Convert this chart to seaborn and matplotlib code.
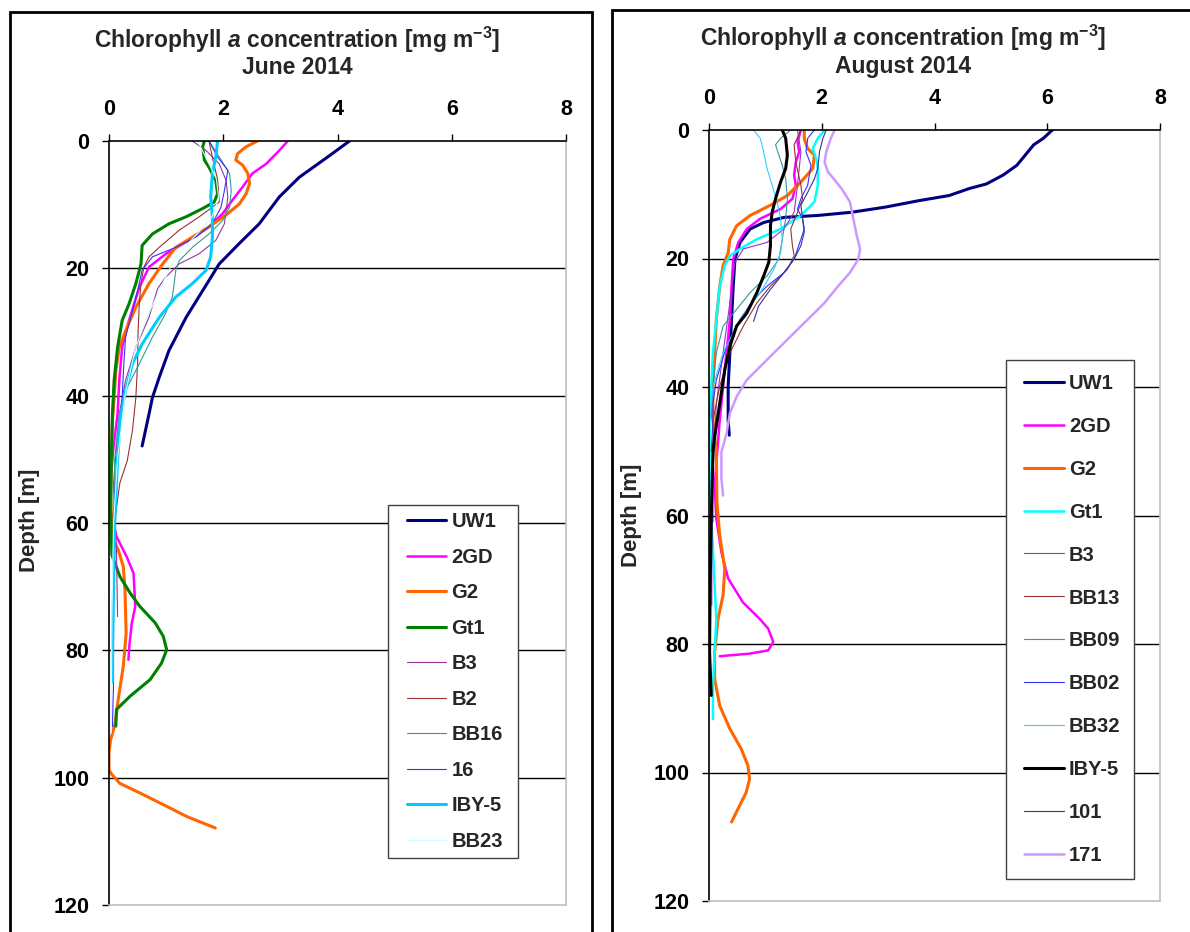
import matplotlib
matplotlib.use("Agg")
import matplotlib.pyplot as plt
import seaborn as sns
import pandas as pd
from matplotlib.patches import Rectangle
from matplotlib.lines import Line2D
from matplotlib.legend_handler import HandlerLine2D

# ---------------- DATA ----------------
X_TICKS = [0, 2, 4, 6, 8]
Y_TICKS = [0, 20, 40, 60, 80, 100, 120]

# June 2014 (depth [m], chlorophyll a [mg m-3])
jun_uw1_d = [0, 2.3, 5.7, 8.8, 13, 16.1, 19.3, 23.5, 27.7, 32.9, 37.1, 40.3, 42.9, 47.9]
jun_uw1_c = [4.21, 3.86, 3.33, 2.98, 2.63, 2.28, 1.93, 1.64, 1.35, 1.05, 0.88, 0.76, 0.70, 0.58]
jun_2gd_d = [0, 1.5, 3.6, 5.1, 7.2, 9.3, 11.4, 13.5, 15.6, 17.7, 19.8, 23, 28.2, 32.4, 37.6, 42.9, 48, 53, 58, 62.1, 65.3, 67.9, 73.1, 75.7, 78.9, 81.5]
jun_2gd_c = [3.13, 2.98, 2.75, 2.51, 2.34, 2.16, 1.99, 1.75, 1.40, 1.0, 0.70, 0.53, 0.35, 0.23, 0.18, 0.15, 0.08, 0.03, 0.03, 0.13, 0.31, 0.43, 0.46, 0.40, 0.36, 0.34]
jun_g2_d = [0, 0.9, 2, 3, 3.8, 5.1, 6.7, 8.3, 9.9, 11.4, 13.5, 15.1, 16.7, 19.3, 22.4, 26.1, 29.8, 32.4, 36.1, 40.3, 43.9, 50, 56, 62, 64.2, 66.8, 70.5, 77.3, 82.5, 87.8, 91.4, 94, 96, 98.8, 99.5, 100.9, 102.4, 104.5, 106.1, 107.9]
jun_g2_c = [2.60, 2.40, 2.25, 2.22, 2.34, 2.43, 2.46, 2.40, 2.28, 2.08, 1.75, 1.46, 1.17, 0.94, 0.70, 0.47, 0.29, 0.18, 0.12, 0.09, 0.06, 0.04, 0.03, 0.05, 0.16, 0.25, 0.28, 0.30, 0.25, 0.16, 0.11, 0.03, 0.0, 0.0, 0.05, 0.19, 0.54, 1.01, 1.36, 1.86]
jun_gt1_d = [0, 0.9, 3, 4.1, 6.2, 8.3, 9.6, 10.6, 11.9, 13, 14.6, 16.4, 19.3, 22.4, 25.6, 28.2, 32.4, 37.6, 42.9, 50, 58, 65, 68.4, 71, 73.1, 75.7, 77.8, 79.9, 82, 84.6, 87.2, 89.3, 91.9]
jun_gt1_c = [1.67, 1.64, 1.67, 1.75, 1.87, 1.90, 1.84, 1.64, 1.35, 1.05, 0.76, 0.58, 0.56, 0.47, 0.35, 0.23, 0.15, 0.09, 0.06, 0.04, 0.03, 0.05, 0.19, 0.37, 0.54, 0.81, 0.95, 1.01, 0.92, 0.72, 0.37, 0.13, 0.12]
jun_b3_d = [0, 1.5, 3.6, 6.2, 8.8, 10.9, 13, 15.6, 17.7, 19.3, 21.4, 23.2, 27.7, 32.4, 37.6, 42.9, 53.7, 64.2, 74.7]
jun_b3_c = [1.46, 1.70, 1.93, 2.05, 2.08, 2.05, 2.02, 1.87, 1.58, 1.23, 0.99, 0.85, 0.70, 0.47, 0.29, 0.18, 0.08, 0.13, 0.15]
jun_b2_d = [0, 3, 6, 9.6, 11.9, 14, 16.7, 18.2, 19.8, 22.4, 25.6, 29.8, 35, 40.3, 45.5, 50.2, 53.7, 59]
jun_b2_c = [1.75, 1.82, 1.90, 1.93, 1.58, 1.23, 0.88, 0.70, 0.61, 0.56, 0.53, 0.51, 0.50, 0.47, 0.41, 0.32, 0.19, 0.11]
jun_bb16_d = [0, 2.5, 5.1, 7.8, 10.4, 12.5, 14.6, 16.7, 18.8, 20.3, 24.5, 27.1, 30.8, 35, 39.2, 42.9, 50, 59, 64]
jun_bb16_c = [1.75, 1.93, 2.11, 2.14, 2.11, 1.99, 1.75, 1.46, 1.23, 1.17, 1.11, 0.99, 0.76, 0.53, 0.29, 0.18, 0.10, 0.08, 0.08]
jun_16_d = [0, 2.5, 4.6, 7.8, 10.4, 13, 15.1, 16.7, 18.2, 20.3, 23.5, 27.7, 30.8, 35, 40.3, 45.5, 55, 70, 85, 92]
jun_16_c = [1.75, 1.90, 2.08, 2.02, 1.96, 1.81, 1.52, 1.17, 0.76, 0.58, 0.50, 0.38, 0.29, 0.26, 0.23, 0.18, 0.10, 0.08, 0.08, 0.06]
jun_iby5_d = [0, 2.5, 5.1, 8.8, 11.9, 15.1, 18.2, 20.3, 22.4, 24.5, 27.7, 31.9, 35, 39.2, 43.4, 50.2, 60, 70, 80, 85]
jun_iby5_c = [1.90, 1.87, 1.81, 1.78, 1.81, 1.81, 1.78, 1.70, 1.46, 1.17, 0.88, 0.58, 0.41, 0.29, 0.20, 0.15, 0.10, 0.08, 0.06, 0.06]
jun_bb23_d = [0, 3, 6, 9, 12, 15, 18.2, 20.3, 23.5, 28, 33, 40, 50, 60, 75, 93]
jun_bb23_c = [1.55, 1.72, 1.88, 1.92, 1.80, 1.50, 1.17, 1.05, 0.88, 0.65, 0.45, 0.28, 0.15, 0.08, 0.05, 0.04]

# August 2014
aug_uw1_d = [0, 1.3, 2.3, 3.9, 5.5, 7.0, 8.4, 9.1, 10.2, 11.0, 12.0, 12.8, 13.3, 13.6, 14.4, 15.4, 17.5, 20.1, 24.3, 29.5, 34.7, 39.9, 45.2, 47.5]
aug_uw1_c = [6.09, 5.93, 5.76, 5.61, 5.46, 5.22, 4.92, 4.62, 4.26, 3.72, 3.13, 2.53, 1.93, 1.33, 0.97, 0.73, 0.55, 0.46, 0.43, 0.40, 0.37, 0.34, 0.34, 0.36]
aug_2gd_d = [0, 1.8, 3.4, 5, 7, 8.6, 10.7, 12.3, 13.8, 15.4, 17.5, 20.1, 24.3, 29.5, 34.7, 39.9, 45.2, 55.3, 60.5, 65.7, 69.8, 73.5, 76.1, 77.6, 79.7, 81.0, 81.5, 81.9]
aug_2gd_c = [1.63, 1.57, 1.60, 1.54, 1.51, 1.54, 1.48, 1.27, 0.91, 0.67, 0.52, 0.43, 0.40, 0.37, 0.31, 0.25, 0.19, 0.10, 0.13, 0.22, 0.34, 0.60, 0.90, 1.05, 1.14, 1.05, 0.72, 0.19]
aug_g2_d = [0, 1.3, 2.9, 3.9, 6, 8.1, 10.2, 11.7, 13.3, 14.9, 17, 19.1, 21.1, 24.3, 29.5, 34.7, 39.9, 45.2, 50.1, 57.9, 63.1, 68.3, 72.4, 76.1, 81.3, 85.4, 89.6, 93.2, 96.3, 98.9, 101, 103.1, 105.2, 107.7]
aug_g2_c = [1.69, 1.69, 1.75, 1.87, 1.84, 1.63, 1.39, 1.09, 0.73, 0.49, 0.37, 0.34, 0.25, 0.19, 0.13, 0.10, 0.07, 0.07, 0.13, 0.14, 0.19, 0.28, 0.25, 0.16, 0.10, 0.10, 0.19, 0.37, 0.57, 0.69, 0.72, 0.66, 0.54, 0.40]
aug_gt1_d = [0, 1.3, 2.9, 4.4, 6, 8.6, 11.2, 13.3, 15.4, 17, 18.5, 19.6, 21.1, 24.3, 29.5, 34.7, 39.9, 45.2, 52.7, 60, 70.9, 76.1, 81.3, 86.4, 91.7]
aug_gt1_c = [2.05, 1.93, 1.84, 1.90, 1.93, 1.93, 1.87, 1.63, 1.27, 0.85, 0.55, 0.37, 0.28, 0.19, 0.13, 0.07, 0.04, 0.01, 0.01, 0.04, 0.10, 0.13, 0.10, 0.07, 0.07]
aug_b3_d = [0, 3.4, 8.6, 12.8, 15.4, 17.5, 18.5, 20.6, 26.9, 34.7, 42.6, 55, 65, 74]
aug_b3_c = [1.57, 1.63, 1.57, 1.51, 1.33, 1.03, 0.61, 0.46, 0.37, 0.25, 0.13, 0.06, 0.05, 0.05]
aug_bb13_d = [0, 2.3, 5, 8.6, 10.7, 12.8, 15.4, 18, 19.6, 21.7, 24.3, 26.9, 30.5, 34.7, 39.9, 45.2, 50]
aug_bb13_c = [1.63, 1.51, 1.54, 1.63, 1.66, 1.57, 1.45, 1.48, 1.51, 1.39, 1.09, 0.85, 0.61, 0.37, 0.19, 0.07, 0.04]
aug_bb09_d = [0, 1.3, 2.3, 3.9, 5.5, 7.6, 10.7, 13.8, 17, 20.1, 22.7, 25.3, 27.9, 30.5, 34.7, 39.9, 45]
aug_bb09_c = [1.45, 1.27, 1.18, 1.24, 1.30, 1.36, 1.39, 1.36, 1.30, 1.24, 1.03, 0.73, 0.49, 0.25, 0.13, 0.07, 0.04]
aug_bb02_d = [0, 1.3, 3.4, 5.5, 8.6, 10.7, 12.3, 13.8, 15.4, 17, 20.1, 22.2, 24.3, 26.4, 29.5, 33.7, 38.9, 42.6, 50, 61]
aug_bb02_c = [1.87, 1.75, 1.72, 1.81, 1.75, 1.63, 1.57, 1.66, 1.69, 1.63, 1.51, 1.33, 1.03, 0.79, 0.55, 0.31, 0.13, 0.07, 0.07, 0.07]
aug_bb32_d = [0, 1.3, 3.4, 6, 8.6, 11.2, 13.8, 17, 19.1, 21.7, 25.3, 29.5, 34.7, 39.9, 45.2, 52]
aug_bb32_c = [0.79, 0.91, 0.97, 1.03, 1.12, 1.21, 1.27, 1.30, 1.27, 1.15, 0.91, 0.55, 0.25, 0.07, 0.01, 0.0]
aug_iby5_d = [0, 1.3, 3.9, 6, 8.1, 10.7, 12.8, 14.9, 18, 20.6, 22.7, 25.3, 28.5, 30.5, 33.7, 37.3, 42.6, 47.8, 50.1, 60.5, 70.9, 81.3, 88]
aug_iby5_c = [1.30, 1.36, 1.39, 1.36, 1.27, 1.18, 1.12, 1.09, 1.09, 1.06, 0.97, 0.85, 0.67, 0.49, 0.37, 0.28, 0.19, 0.10, 0.07, 0.04, 0.02, 0.01, 0.04]
aug_101_d = [0, 1.3, 3.4, 6, 7.6, 9.7, 11.7, 13.8, 15.9, 18, 20.1, 22.2, 24.8, 27.4, 29.8]
aug_101_c = [2.08, 2.02, 1.96, 1.93, 1.87, 1.75, 1.63, 1.66, 1.69, 1.63, 1.51, 1.33, 1.09, 0.88, 0.79]
aug_171_d = [0, 1.3, 3.4, 5, 6.5, 9.1, 11.2, 13.8, 16.4, 18.5, 20.1, 22.2, 24.3, 26.9, 29.5, 32.1, 34.7, 36.8, 38.9, 41.5, 44.1, 47.3, 50.1, 54.3, 56.9]
aug_171_c = [2.23, 2.16, 2.08, 2.05, 2.11, 2.35, 2.50, 2.56, 2.62, 2.68, 2.65, 2.50, 2.29, 2.05, 1.75, 1.45, 1.15, 0.91, 0.67, 0.49, 0.37, 0.31, 0.22, 0.22, 0.25]

june_names = ["UW1", "2GD", "G2", "Gt1", "B3", "B2", "BB16", "16", "IBY-5", "BB23"]
june_depths = [jun_uw1_d, jun_2gd_d, jun_g2_d, jun_gt1_d, jun_b3_d, jun_b2_d, jun_bb16_d, jun_16_d, jun_iby5_d, jun_bb23_d]
june_chl = [jun_uw1_c, jun_2gd_c, jun_g2_c, jun_gt1_c, jun_b3_c, jun_b2_c, jun_bb16_c, jun_16_c, jun_iby5_c, jun_bb23_c]
june_colors = ["#000080", "#FF00FF", "#FF6600", "#008000", "#993399", "#993333", "#339999", "#3333FF", "#00CCFF", "#CCFFFF"]
june_lw = [2.2, 1.8, 2.2, 2.2, 0.8, 0.8, 0.8, 0.8, 2.2, 0.8]

aug_names = ["UW1", "2GD", "G2", "Gt1", "B3", "BB13", "BB09", "BB02", "BB32", "IBY-5", "101", "171"]
aug_depths = [aug_uw1_d, aug_2gd_d, aug_g2_d, aug_gt1_d, aug_b3_d, aug_bb13_d, aug_bb09_d, aug_bb02_d, aug_bb32_d, aug_iby5_d, aug_101_d, aug_171_d]
aug_chl = [aug_uw1_c, aug_2gd_c, aug_g2_c, aug_gt1_c, aug_b3_c, aug_bb13_c, aug_bb09_c, aug_bb02_c, aug_bb32_c, aug_iby5_c, aug_101_c, aug_171_c]
aug_colors = ["#000080", "#FF00FF", "#FF6600", "#00FFFF", "#9933CC", "#993333", "#339999", "#3333FF", "#33CCFF", "#000000", "#333399", "#CC99FF"]
aug_lw = [2.2, 1.8, 2.2, 1.8, 0.8, 0.8, 0.8, 0.8, 0.8, 2.2, 0.8, 1.8]

# ---------------- STYLE ----------------
sns.set_theme(style="white")
plt.rcParams["font.family"] = ["Liberation Sans", "DejaVu Sans"]
plt.rcParams["font.weight"] = "bold"
plt.rcParams["mathtext.fontset"] = "custom"
plt.rcParams["mathtext.rm"] = "Liberation Sans:bold"
plt.rcParams["mathtext.it"] = "Liberation Sans:italic:bold"
plt.rcParams["mathtext.bf"] = "Liberation Sans:bold"

W, H = 1190, 932
fig = plt.figure(figsize=(W / 100, H / 100), dpi=100)
fig.patch.set_facecolor("white")


def px(x0, y0, x1, y1):
    return [x0 / W, 1 - y1 / H, (x1 - x0) / W, (y1 - y0) / H]


# outer frames
fig.patches.append(Rectangle((10 / W, -0.05), 582 / W, 1 - 12 / H + 0.05,
                             transform=fig.transFigure, fill=False, ec="black", lw=2.0))
fig.patches.append(Rectangle((612 / W, -0.05), 0.6, 1 - 10 / H + 0.05,
                             transform=fig.transFigure, fill=False, ec="black", lw=2.0))

ax1 = fig.add_axes(px(109, 141, 566, 905))
ax2 = fig.add_axes(px(709, 130, 1160, 901))


def draw(ax, names, depths, chl, colors, lws, leg_box, leg_opts, xpad):
    for n, d, c, col, lw in zip(names, depths, chl, colors, lws):
        df = pd.DataFrame({"depth": d, "chl": c})
        sns.lineplot(data=df, x="chl", y="depth", sort=False, estimator=None,
                     color=col, lw=lw, ax=ax, label=n)
    ax.set_xlim(X_TICKS[0], X_TICKS[-1])
    ax.set_ylim(Y_TICKS[-1], Y_TICKS[0])
    ax.set_xticks(X_TICKS)
    ax.set_yticks(Y_TICKS)
    ax.xaxis.tick_top()
    ax.set_xlabel("")
    ax.set_ylabel("")
    for yv in Y_TICKS[1:-1]:
        ax.axhline(yv, color="black", lw=1.0, zorder=0.5)
    ax.tick_params(axis="both", direction="out", length=5, width=1, colors="black",
                   labelsize=15.5, top=True, left=True, bottom=False, right=False)
    ax.tick_params(axis="x", pad=10.3)
    ax.tick_params(axis="y", pad=9)
    for lab in ax.get_xticklabels() + ax.get_yticklabels():
        lab.set_fontweight("bold")
    for s in ["top", "left"]:
        ax.spines[s].set_color("black")
        ax.spines[s].set_linewidth(1.2)
    for s in ["right", "bottom"]:
        ax.spines[s].set_color("#BFBFBF")
        ax.spines[s].set_linewidth(1.2)
    leg = ax.legend(loc="upper left", bbox_to_anchor=leg_box, borderaxespad=0,
                    mode="expand", frameon=True, fancybox=False, framealpha=1,
                    edgecolor="#404040", prop={"size": 14.5, "weight": "bold"},
                    handler_map={Line2D: HandlerLine2D(xpad=xpad)}, **leg_opts)
    leg.get_frame().set_linewidth(1.0)


draw(ax1, june_names, june_depths, june_chl, june_colors, june_lw,
     (0.6105, 0.0, 0.2845, 0.5236),
     dict(handlelength=2.54, handletextpad=0.25, labelspacing=0.82, borderpad=0.36), 0.6)
draw(ax2, aug_names, aug_depths, aug_chl, aug_colors, aug_lw,
     (0.6585, 0.0, 0.2838, 0.7017),
     dict(handlelength=2.19, handletextpad=0.25, labelspacing=1.19, borderpad=0.68), 0.2)

title1 = r"Chlorophyll $\mathit{a}$ concentration [mg m$^{-3}$]"
fig.text(297 / W, 1 - 40 / H, title1, ha="center", va="center", fontsize=16.5, fontweight="bold")
fig.text(297 / W, 1 - 68 / H, "June 2014", ha="center", va="center", fontsize=16.5, fontweight="bold")
fig.text(903 / W, 1 - 38 / H, title1, ha="center", va="center", fontsize=16.5, fontweight="bold")
fig.text(903 / W, 1 - 66 / H, "August 2014", ha="center", va="center", fontsize=16.5, fontweight="bold")
fig.text(30 / W, 1 - 520 / H, "Depth [m]", rotation=90, ha="center", va="center", fontsize=16, fontweight="bold")
fig.text(632 / W, 1 - 515 / H, "Depth [m]", rotation=90, ha="center", va="center", fontsize=16, fontweight="bold")

fig.savefig("out.png", dpi=100)
